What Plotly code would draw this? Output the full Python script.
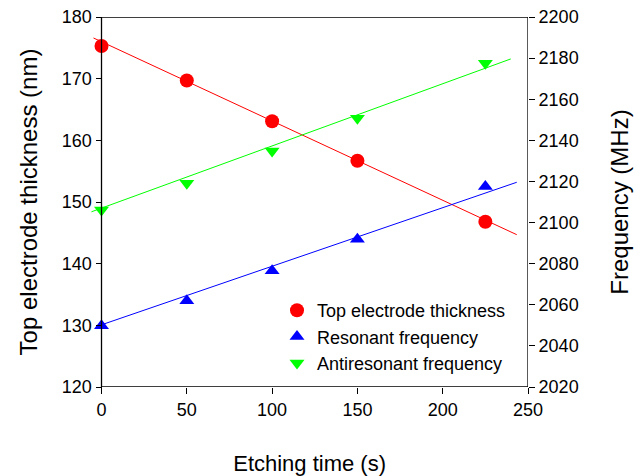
import plotly.graph_objects as go

# ---- data ----
etch_time = [0, 50, 100, 150, 225]
thickness_nm = [175.3, 169.7, 163.1, 156.7, 146.8]
resonant_mhz = [2049.8, 2062.0, 2076.6, 2091.9, 2117.5]
antiresonant_mhz = [2106.1, 2119.1, 2134.8, 2150.7, 2177.5]

# fitted straight lines (end points)
fit_thick_x = [-4.7, 243.4]
fit_thick_y = [176.6, 144.7]
fit_res_x = [-3.0, 243.4]
fit_res_y = [2049.4, 2119.6]
fit_anti_x = [-6.0, 239.9]
fit_anti_y = [2105.2, 2179.6]

x_ticks = [0, 50, 100, 150, 200, 250]
left_ticks = [120, 130, 140, 150, 160, 170, 180]
right_ticks = [2020, 2040, 2060, 2080, 2100, 2120, 2140, 2160, 2180, 2200]

FONT = "Arial, Liberation Sans, Helvetica, sans-serif"
W, H = 642, 476
# plot geometry (pixels)
x0_px, x1_px = 101.5, 528.0
ytop_px, ybot_px = 17.0, 387.0
xmin = -6.0
xmax = 250.0
left_px = x1_px - (x1_px - x0_px) * (xmax - xmin) / (xmax - 0)

fig = go.Figure()

fig.add_trace(go.Scatter(x=fit_thick_x, y=fit_thick_y, mode="lines",
                         line=dict(color="#ff0000", width=1), showlegend=False,
                         hoverinfo="skip"))
fig.add_trace(go.Scatter(x=fit_res_x, y=fit_res_y, mode="lines", yaxis="y2",
                         line=dict(color="#0000ff", width=1), showlegend=False,
                         hoverinfo="skip"))
fig.add_trace(go.Scatter(x=fit_anti_x, y=fit_anti_y, mode="lines", yaxis="y2",
                         line=dict(color="#00ff00", width=1), showlegend=False,
                         hoverinfo="skip"))

fig.add_trace(go.Scatter(x=etch_time, y=thickness_nm, mode="markers",
                         name="Top electrode thickness", cliponaxis=False,
                         marker=dict(symbol="circle", size=14, color="#ff0000")))
fig.add_trace(go.Scatter(x=etch_time, y=resonant_mhz, mode="markers", yaxis="y2",
                         name="Resonant frequency", cliponaxis=False,
                         marker=dict(symbol="triangle-up", size=13, color="#0000ff")))
fig.add_trace(go.Scatter(x=etch_time, y=antiresonant_mhz, mode="markers", yaxis="y2",
                         name="Antiresonant frequency", cliponaxis=False,
                         marker=dict(symbol="triangle-down", size=13, color="#00ff00")))

# frame box
fig.add_shape(type="rect", xref="x", yref="y", x0=0, x1=250, y0=120, y1=180,
              line=dict(color="black", width=1.3), fillcolor="rgba(0,0,0,0)", layer="above")

axis_common = dict(showgrid=False, zeroline=False, showline=False, automargin=False,
                   ticks="outside", ticklen=6, tickwidth=1.3, tickcolor="black",
                   tickfont=dict(family=FONT, size=18, color="black"))

fig.update_layout(
    width=W, height=H,
    margin=dict(l=0, r=0, t=0, b=0, autoexpand=False),
    paper_bgcolor="white", plot_bgcolor="white",
    font=dict(family=FONT, color="black"),
    xaxis=dict(domain=[left_px / W, x1_px / W], range=[xmin, xmax],
               tickvals=x_ticks, ticktext=[str(v) for v in x_ticks],
               title=dict(text="Etching time (s)", font=dict(family=FONT, size=22), standoff=37),
               **axis_common),
    yaxis=dict(domain=[(H - ybot_px) / H, (H - ytop_px) / H], range=[120, 180],
               anchor="free", position=x0_px / W,
               tickvals=left_ticks, ticktext=[str(v) for v in left_ticks],
               title=dict(text="Top electrode thickness (nm)", font=dict(family=FONT, size=24), standoff=16),
               **axis_common),
    yaxis2=dict(overlaying="y", side="right", anchor="x", range=[2020, 2200],
                tickvals=right_ticks, ticktext=[str(v) for v in right_ticks],
                title=dict(text="Frequency (MHz)", font=dict(family=FONT, size=24), standoff=33),
                **axis_common),
    legend=dict(x=277 / W, y=(H - 292) / H, xanchor="left", yanchor="top",
                bgcolor="rgba(0,0,0,0)", borderwidth=0,
                font=dict(family=FONT, size=18, color="black"),
                itemwidth=30, tracegroupgap=0),
    showlegend=True,
)

fig.write_html("out.html")
